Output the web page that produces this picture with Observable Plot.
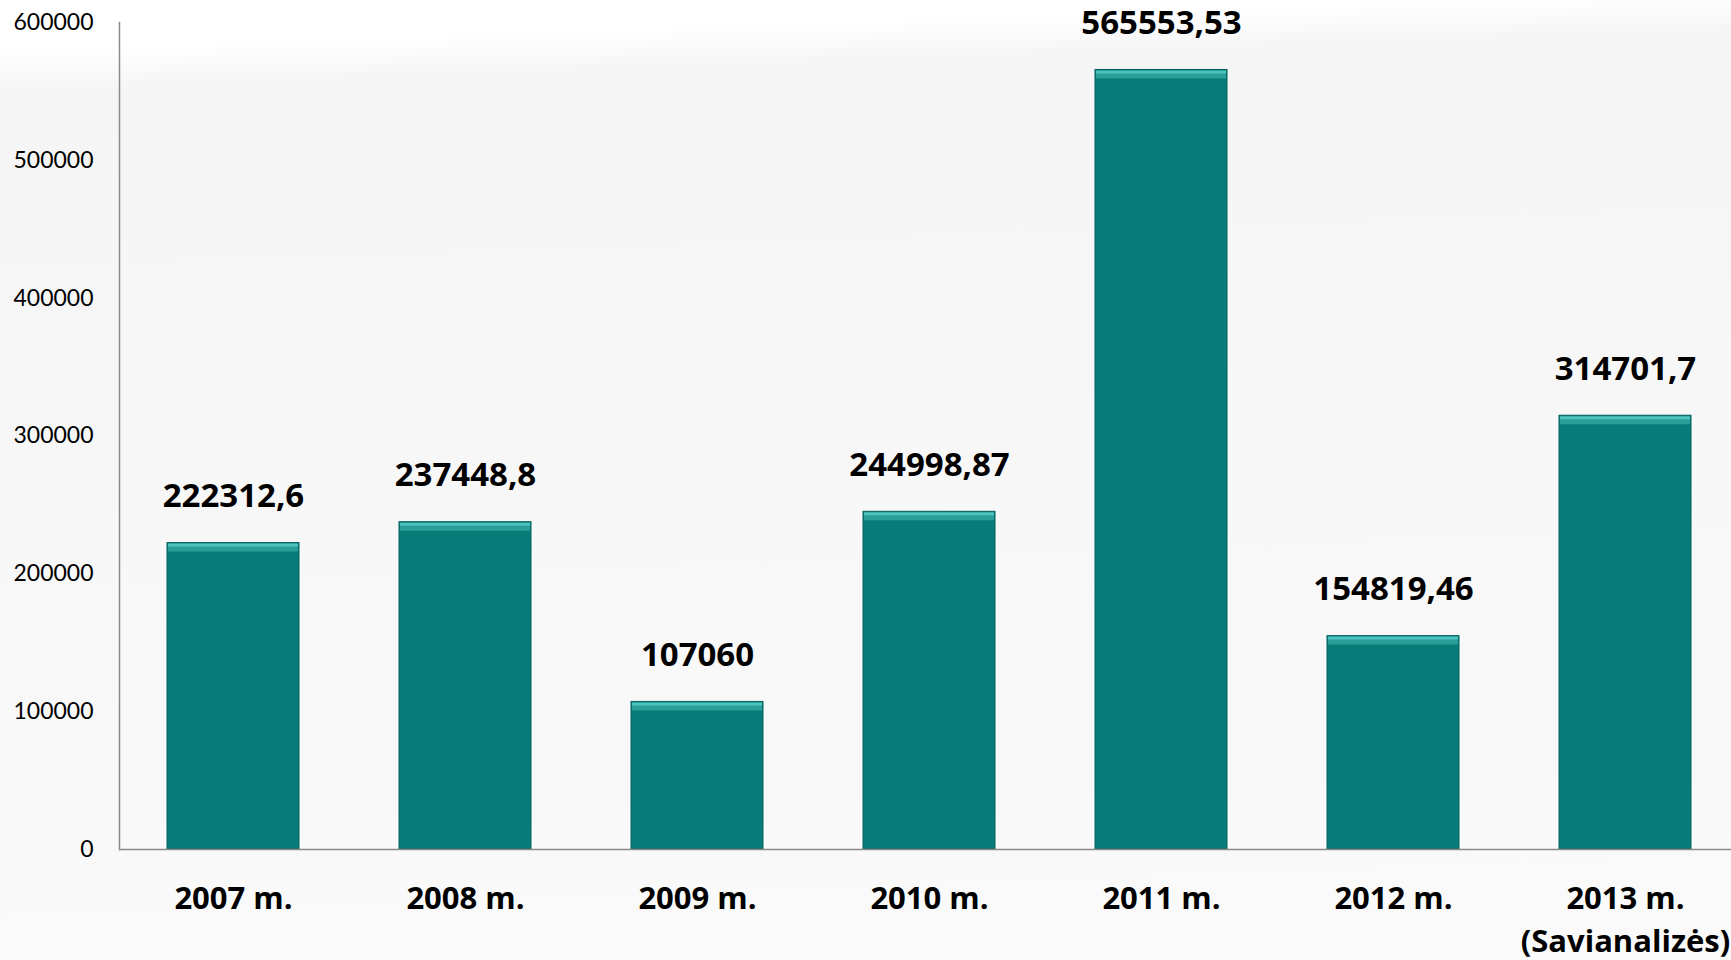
<!DOCTYPE html>
<html>
<head>
<meta charset="utf-8">
<script src="https://cdn.jsdelivr.net/npm/d3@7"></script>
<script src="https://cdn.jsdelivr.net/npm/@observablehq/plot@0.6"></script>
<style>
  html, body { margin: 0; padding: 0; }
  body {
    width: 1731px; height: 960px; overflow: hidden;
    background: linear-gradient(178deg, #ffffff 0%, #ffffff 5%, #f5f5f5 9%, #f7f7f7 45%, #fafafa 100%);
    font-family: Lato, "Open Sans", sans-serif;
  }
  #chart svg { display: block; }
</style>
</head>
<body>
<div id="chart"></div>
<script>
const categories = ["2007 m.", "2008 m.", "2009 m.", "2010 m.", "2011 m.", "2012 m.", "2013 m.\n(Savianalizės)"];
const values = [222312.6, 237448.8, 107060, 244998.87, 565553.53, 154819.46, 314701.7];
const yTicks = [0, 100000, 200000, 300000, 400000, 500000, 600000];

const data = categories.map((c, i) => ({category: c, value: values[i], label: String(values[i]).replace(".", ",")}));

const W = 1731, H = 960;
const mL = 119, mT = 22, mB = 111;
const boldFont = "'Open Sans', Lato, sans-serif";

const chart = Plot.plot({
  width: W,
  height: H,
  marginLeft: mL,
  marginTop: mT,
  marginBottom: mB,
  marginRight: 0,
  style: {background: "transparent", fontFamily: "Lato, 'Open Sans', sans-serif", color: "#000"},
  x: {domain: categories, range: [116, 116 + 7 * 232.2], paddingInner: 0.43, paddingOuter: 0.215, label: null},
  y: {domain: [0, 600000], label: null},
  marks: [
    Plot.frame({anchor: "left", stroke: "#8a8a8a", strokeWidth: 1.5}),
    Plot.barY(data, {x: "category", y: "value", fill: "#077b78", stroke: "#05605d", strokeWidth: 1}),
    Plot.tickY(data, {x: "category", y: "value", stroke: "#2a9d99", strokeWidth: 7, dy: 5, insetLeft: 1, insetRight: 1}),
    Plot.tickY(data, {x: "category", y: "value", stroke: "#4cc3be", strokeWidth: 3, dy: 2, insetLeft: 1, insetRight: 1}),
    Plot.ruleY([0], {stroke: "#8a8a8a", strokeWidth: 1.5}),
    Plot.text(data, {x: "category", y: "value", text: "label", dy: -36, lineAnchor: "bottom", fontSize: 33, fontWeight: "bold", fontFamily: boldFont, fill: "#000"}),
    Plot.axisY({ticks: yTicks, tickFormat: d3.format("d"), tickSize: 0, tickPadding: 26, fontSize: 23, label: null, fill: "#000"}),
    Plot.axisX({tickSize: 0, tickPadding: 30, fontSize: 31, fontWeight: "bold", fontFamily: boldFont, lineHeight: 1.36, label: null, fill: "#000"})
  ]
});
document.getElementById("chart").append(chart);
</script>
</body>
</html>
